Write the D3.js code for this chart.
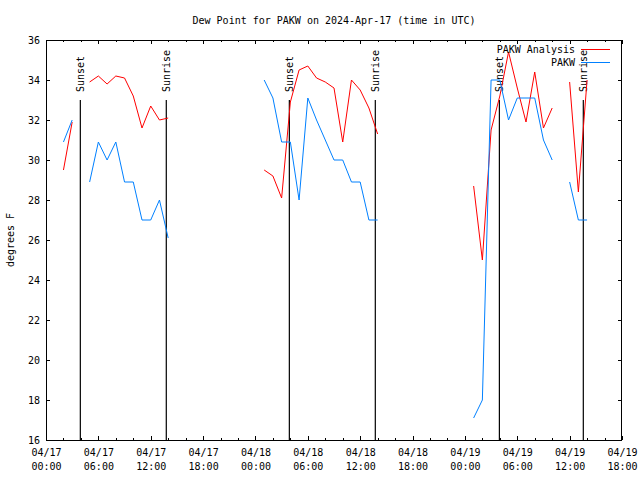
<!DOCTYPE html>
<html>
<head>
<meta charset="utf-8">
<script src="https://cdn.jsdelivr.net/npm/d3@7"></script>
<style>
  html, body { margin: 0; padding: 0; background: #fff; }
  svg { display: block; }
  text { font-family: "DejaVu Sans Mono", monospace; font-size: 10px; fill: #000; }
</style>
</head>
<body>
<svg id="chart" width="640" height="480"></svg>
<script>
// ---------- data ----------
const title = "Dew Point for PAKW on 2024-Apr-17 (time in UTC)";
const yLabel = "degrees F";
const seriesNames = ["PAKW Analysis", "PAKW"];
// hourly values starting at 2024-04-17 02:00 UTC (null = missing)
const firstHour = "2024-04-17T02:00:00Z";
const analysisValues = [
  29.5, 31.9, null, 33.9, 34.2, 33.8, 34.2, 34.1, 33.2, 31.6, 32.7, 32.0, 32.1,   // 02..14
  null, null, null, null, null, null, null, null, null, null,                     // 15..24
  29.5, 29.2, 28.1, 32.9, 34.5, 34.7, 34.1, 33.9, 33.6, 30.9, 34.0, 33.5, 32.6, 31.3, // 25..38
  null, null, null, null, null, null, null, null, null, null,                     // 39..48
  28.7, 25.0, 31.5, 33.2, 35.4, 33.6, 31.9, 34.4, 31.6, 32.6,                     // 49..58
  null, 33.9, 28.4, 34.0                                                          // 59..62
];
const obsValues = [
  30.9, 32.0, null, 28.9, 30.9, 30.0, 30.9, 28.9, 28.9, 27.0, 27.0, 28.0, 26.1,
  null, null, null, null, null, null, null, null, null, null,
  34.0, 33.1, 30.9, 30.9, 28.0, 33.1, 32.0, 31.0, 30.0, 30.0, 28.9, 28.9, 27.0, 27.0,
  null, null, null, null, null, null, null, null, null, null,
  17.1, 18.0, 34.0, 34.0, 32.0, 33.1, 33.1, 33.1, 31.0, 30.0,
  null, 28.9, 27.0, 27.0
];
const sunEvents = [
  { label: "Sunset",  time: "2024-04-17T03:56:00Z" },
  { label: "Sunrise", time: "2024-04-17T13:47:00Z" },
  { label: "Sunset",  time: "2024-04-18T03:53:00Z" },
  { label: "Sunrise", time: "2024-04-18T13:44:00Z" },
  { label: "Sunset",  time: "2024-04-19T03:57:00Z" },
  { label: "Sunrise", time: "2024-04-19T13:34:00Z" }
];
const xDomain = ["2024-04-17T00:00:00Z", "2024-04-19T18:00:00Z"];
const yDomain = [16, 36];
const yTicks = [16, 18, 20, 22, 24, 26, 28, 30, 32, 34, 36];
const sunLineTop = 33;

// ---------- layout ----------
const L = 46, R = 622, T = 40, B = 440;
const colors = ["#ff0000", "#0080ff"];

const svg = d3.select("#chart");
const x = d3.scaleUtc().domain(xDomain.map(d => new Date(d))).range([L, R]);
const y = d3.scaleLinear().domain(yDomain).range([B, T]);

const t0 = new Date(firstHour);
const toPoints = vals => vals.map((v, i) => ({ t: d3.utcHour.offset(t0, i), v }));

// title
svg.append("text").attr("x", (L + R) / 2).attr("y", 24)
  .attr("text-anchor", "middle").text(title);

// y label
svg.append("text").attr("transform", `translate(10,${(T + B) / 2}) rotate(-90)`)
  .attr("text-anchor", "middle").attr("dominant-baseline", "central").text(yLabel);

// axes
const fmtD = d3.utcFormat("%m/%d"), fmtH = d3.utcFormat("%H:%M");
const gx = svg.append("g").attr("transform", `translate(0,${B})`)
  .call(d3.axisBottom(x).ticks(d3.utcHour.every(6)).tickSize(-4).tickPadding(0).tickFormat(""));
gx.selectAll(".tick").each(function(d) {
  const t = d3.select(this).append("text").attr("text-anchor", "middle").attr("fill", "#000");
  t.append("tspan").attr("x", 0).attr("y", 16).text(fmtD(d));
  t.append("tspan").attr("x", 0).attr("y", 30).text(fmtH(d));
});
svg.append("g").attr("transform", `translate(0,${B})`)
  .call(d3.axisBottom(x).ticks(d3.utcHour.every(2)).tickSize(-2).tickFormat(""));
svg.append("g").attr("transform", `translate(0,${T})`)
  .call(d3.axisTop(x).ticks(d3.utcHour.every(6)).tickSize(-4).tickFormat(""));
svg.append("g").attr("transform", `translate(0,${T})`)
  .call(d3.axisTop(x).ticks(d3.utcHour.every(2)).tickSize(-2).tickFormat(""));
const gy = svg.append("g").attr("transform", `translate(${L},0)`)
  .call(d3.axisLeft(y).tickValues(yTicks).tickSize(-4).tickPadding(6).tickFormat(d3.format("d")));
svg.append("g").attr("transform", `translate(${R},0)`)
  .call(d3.axisRight(y).tickValues(yTicks).tickSize(-4).tickFormat(""));
svg.selectAll(".domain").remove();
svg.selectAll(".tick line").attr("stroke", "#000").attr("shape-rendering", "crispEdges");
svg.selectAll(".tick text").attr("font-family", null).attr("font-size", null);
gy.selectAll("text").attr("font-size", "10px");

// frame
svg.append("rect").attr("x", L + 0.5).attr("y", T + 0.5)
  .attr("width", R - L - 1).attr("height", B - T).attr("fill", "none")
  .attr("stroke", "#000").attr("shape-rendering", "crispEdges");

// sun lines
sunEvents.forEach(e => {
  const xp = x(new Date(e.time));
  svg.append("line").attr("x1", xp).attr("x2", xp).attr("y1", y(sunLineTop)).attr("y2", B)
    .attr("stroke", "#000").attr("stroke-width", 1.2);
  svg.append("text").attr("transform", `translate(${xp},${y(sunLineTop) - 8}) rotate(-90)`)
    .attr("dominant-baseline", "central").text(e.label);
});

// series
const line = d3.line().defined(d => d.v != null).x(d => x(d.t)).y(d => y(d.v));
[analysisValues, obsValues].forEach((vals, i) => {
  svg.append("path").datum(toPoints(vals)).attr("d", line)
    .attr("fill", "none").attr("stroke", colors[i]).attr("stroke-width", 1);
});

// legend
seriesNames.forEach((n, i) => {
  const yy = 49 + i * 13;
  svg.append("text").attr("x", 575).attr("y", yy).attr("text-anchor", "end")
    .attr("dominant-baseline", "central").text(n);
  svg.append("line").attr("x1", 581).attr("x2", 610).attr("y1", yy + 0.5).attr("y2", yy + 0.5)
    .attr("stroke", colors[i]).attr("shape-rendering", "crispEdges");
});
</script>
</body>
</html>
